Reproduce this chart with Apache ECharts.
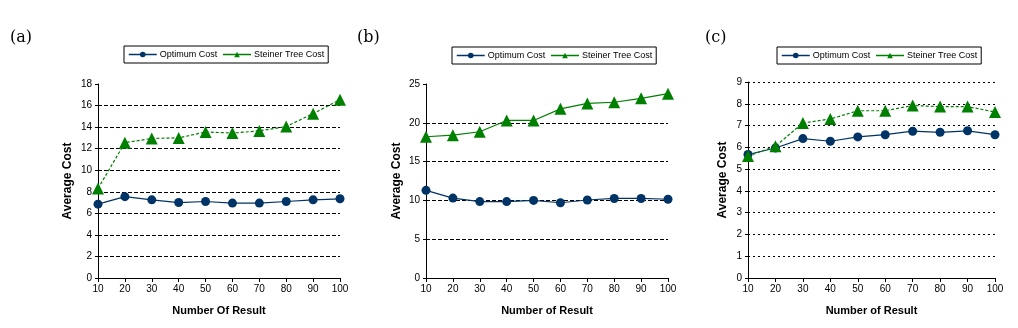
<!DOCTYPE html>
<html><head><meta charset="utf-8">
<script src="https://cdn.jsdelivr.net/npm/echarts@6/dist/echarts.min.js"></script>
<style>html,body{margin:0;padding:0;background:#fff}#c{width:1018px;height:328px}</style>
</head><body><div id="c"></div>
<script>
const categories = ['10','20','30','40','50','60','70','80','90','100'];
const optimumA = [6.85, 7.55, 7.25, 7.0, 7.1, 6.95, 6.95, 7.1, 7.25, 7.35];
const steinerA = [8.3, 12.55, 12.95, 13.0, 13.55, 13.45, 13.65, 14.05, 15.25, 16.55];
const optimumB = [11.3, 10.3, 9.85, 9.85, 10.0, 9.7, 10.05, 10.25, 10.25, 10.15];
const steinerB = [18.2, 18.4, 18.85, 20.3, 20.3, 21.8, 22.5, 22.65, 23.15, 23.75];
const optimumC = [5.67, 5.97, 6.4, 6.28, 6.48, 6.58, 6.74, 6.69, 6.76, 6.58];
const steinerC = [5.6, 6.05, 7.12, 7.3, 7.68, 7.68, 7.92, 7.87, 7.87, 7.62];
const panelLabels = ['(a)', '(b)', '(c)'];
const xTitles = ['Number Of Result', 'Number of Result', 'Number of Result'];
const yTitle = 'Average Cost';
const yMax = [18, 25, 9];
const yInterval = [2, 5, 1];
const seriesNames = ['Optimum Cost', 'Steiner Tree Cost'];

const FONT = 'Liberation Sans';
const NAVY = '#003366';
const GREEN = '#008000';

const grids = [
  {left: 98, width: 242, top: 84, height: 194},
  {left: 426, width: 242, top: 84, height: 194},
  {left: 748, width: 247, top: 82, height: 196}
];
const legendPos = [
  {left: 124, top: 46},
  {left: 452, top: 47},
  {left: 777, top: 47}
];
const labelPos = [[10, 30], [357, 30], [705, 30]];
const nameGaps = [24, 23, 19];
const gridTypes = ['dashed', 'dashed', [2, 3]];
const steinerTypes = [[3, 2], 'solid', [3, 2]];

function splitColors(i) {
  const n = yMax[i] / yInterval[i] + 1;
  const arr = [];
  for (let k = 0; k < n; k++) arr.push('#000');
  if (i !== 2) arr[n - 1] = 'rgba(0,0,0,0)';
  return arr;
}

const data = [[optimumA, steinerA], [optimumB, steinerB], [optimumC, steinerC]];

const option = {
  animation: false,
  backgroundColor: '#fff',
  textStyle: {fontFamily: FONT},
  grid: grids,
  legend: grids.map((g, i) => ({
    left: legendPos[i].left, top: legendPos[i].top,
    data: seriesNames,
    borderColor: '#000', borderWidth: 1, borderRadius: 0,
    padding: [4, 4], itemGap: 5, itemWidth: 28, itemHeight: 7,
    lineStyle: {type: 'solid', width: 1.5},
    textStyle: {fontSize: 9, color: '#000', fontFamily: FONT, padding: [0, 0, 0, -2]},
    selectedMode: false
  })),
  xAxis: grids.map((g, i) => ({
    gridIndex: i, type: 'category', data: categories, boundaryGap: false,
    name: xTitles[i], nameLocation: 'middle', nameGap: 27,
    nameTextStyle: {fontSize: 11, fontWeight: 'bold', color: '#000', fontFamily: FONT},
    axisLine: {lineStyle: {color: '#000', width: 1}},
    axisTick: {show: true, length: 4, lineStyle: {color: '#000'}},
    axisLabel: {fontSize: 10, color: '#000', margin: 6, fontFamily: FONT, interval: 0}
  })),
  yAxis: grids.map((g, i) => ({
    gridIndex: i, type: 'value', min: 0, max: yMax[i], interval: yInterval[i],
    name: yTitle, nameLocation: 'middle', nameGap: nameGaps[i], nameRotate: 90,
    nameTextStyle: {fontSize: 12, fontWeight: 'bold', color: '#000', fontFamily: FONT},
    axisLine: {show: true, lineStyle: {color: '#000', width: 1}},
    axisTick: {show: true, length: 3, lineStyle: {color: '#000'}},
    axisLabel: {fontSize: 10, color: '#000', margin: 6, fontFamily: FONT},
    splitLine: {show: true, lineStyle: {color: splitColors(i), type: gridTypes[i], width: 1}}
  })),
  series: [],
  graphic: panelLabels.map((t, i) => ({
    type: 'text', left: labelPos[i][0], top: labelPos[i][1],
    style: {text: t, font: '16px "DejaVu Serif", serif', fill: '#000'}
  }))
};

data.forEach((pair, i) => {
  option.series.push({
    name: seriesNames[0], type: 'line', xAxisIndex: i, yAxisIndex: i,
    data: pair[0], symbol: 'circle', symbolSize: 9,
    lineStyle: {color: NAVY, width: 1.2}, itemStyle: {color: NAVY}
  });
  option.series.push({
    name: seriesNames[1], type: 'line', xAxisIndex: i, yAxisIndex: i,
    data: pair[1], symbol: 'triangle', symbolSize: 12,
    lineStyle: {color: GREEN, width: 1.2, type: steinerTypes[i]}, itemStyle: {color: GREEN}
  });
});

const chart = echarts.init(document.getElementById('c'), null, {renderer: 'canvas'});
chart.setOption(option);
</script>
</body></html>
